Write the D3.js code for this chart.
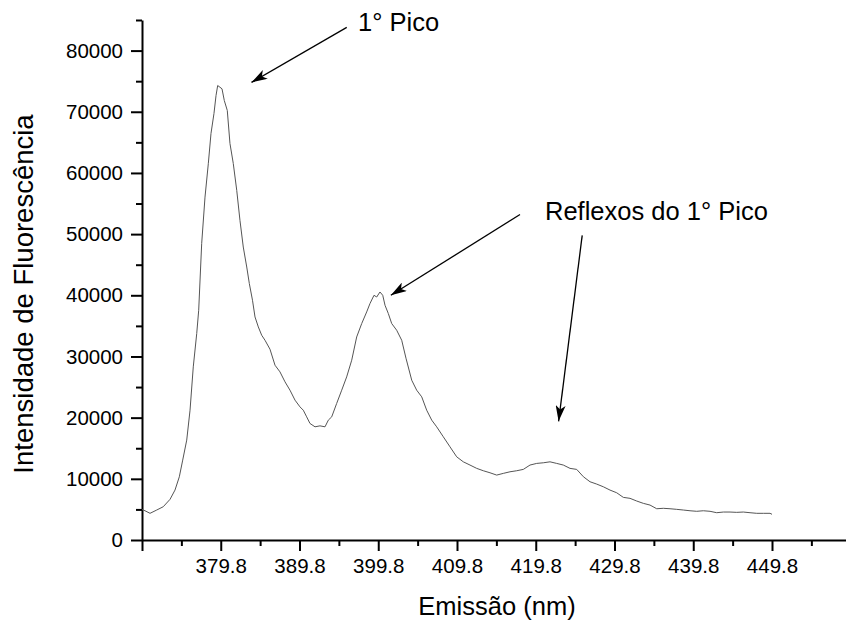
<!DOCTYPE html>
<html>
<head>
<meta charset="utf-8">
<script src="https://cdn.jsdelivr.net/npm/d3@7"></script>
<style>
  body { margin: 0; background: #fff; }
  svg { display: block; font-family: "Liberation Sans", Arial, sans-serif; }
</style>
</head>
<body>
<div id="chart"></div>
<script>
// emission spectrum
const wavelength = [
  369.8, 370.18, 370.82, 371.67, 372.5, 373.36, 373.99, 374.54, 374.97, 375.48,
  375.9, 376.31, 376.75, 377.0, 377.38, 377.8, 378.22, 378.56, 378.94, 379.2,
  379.41, 379.7, 379.96, 380.25, 380.63, 380.97, 381.39, 381.83, 382.24, 382.66,
  383.1, 383.43, 383.83, 384.15, 384.57, 385.0, 385.42, 386.05, 386.69, 387.32,
  387.96, 388.59, 389.23, 389.86, 390.28, 390.71, 391.13, 391.77, 392.4, 393.04,
  393.46, 393.89, 394.52, 395.16, 395.79, 396.43, 397.06, 397.7, 398.33, 398.75,
  399.26, 399.6, 400.02, 400.37, 400.66, 401.08, 401.51, 402.14, 402.78, 403.32,
  404.05, 404.68, 405.32, 405.95, 406.59, 407.22, 408.06, 408.91, 409.76, 410.6,
  411.45, 412.3, 413.14, 413.99, 414.84, 415.68, 416.53, 417.38, 418.22, 419.07,
  419.92, 420.76, 421.61, 422.46, 423.3, 424.15, 425.0, 425.85, 426.69, 427.54,
  428.38, 429.23, 430.08, 430.92, 431.77, 432.62, 433.46, 434.31, 435.16, 436.0,
  436.85, 437.7, 438.54, 439.39, 440.24, 441.08, 441.93, 442.78, 443.62, 444.47,
  445.32, 446.16, 447.01, 447.86, 448.7, 449.55, 449.8
];
const intensity = [
  4980, 4780, 4360, 4900, 5440, 6650, 8160, 10330, 13060, 16330,
  21220, 28300, 33750, 37550, 48490, 56050, 61500, 66450, 69720, 72650,
  74290, 74010, 73750, 71840, 70210, 64820, 61550, 57150, 52250, 47890,
  44620, 41910, 39190, 36460, 34830, 33470, 32650, 31190, 28570, 27480,
  25850, 24490, 22860, 21760, 21220, 20130, 19050, 18500, 18660, 18500,
  19590, 20130, 22320, 24490, 26660, 29390, 33190, 35380, 37280, 38650,
  40000, 39720, 40540, 40000, 38370, 37010, 35380, 34290, 32650, 29720,
  26120, 24490, 23400, 21220, 19590, 18500, 16870, 15230, 13600, 12780,
  12250, 11710, 11320, 10990, 10610, 10890, 11150, 11320, 11540, 12250,
  12520, 12620, 12780, 12520, 12250, 11710, 11540, 10340, 9520, 9140,
  8700, 8160, 7720, 6970, 6810, 6370, 5990, 5710, 5110, 5180,
  5110, 5010, 4900, 4780, 4690, 4780, 4690, 4460, 4570, 4570,
  4520, 4570, 4460, 4360, 4360, 4360, 4200
];

const xMajor = [369.8, 379.8, 389.8, 399.8, 409.8, 419.8, 429.8, 439.8, 449.8];
const xMinor = [374.8, 384.8, 394.8, 404.8, 414.8, 424.8, 434.8, 444.8, 454.8];
const yMajor = [0, 10000, 20000, 30000, 40000, 50000, 60000, 70000, 80000];
const yMinor = [5000, 15000, 25000, 35000, 45000, 55000, 65000, 75000, 85000];

const xTitle = "Emissão (nm)";
const yTitle = "Intensidade de Fluorescência";

const annotations = [
  { text: "1° Pico", x: 358, y: 31 },
  { text: "Reflexos do 1° Pico", x: 545, y: 220 }
];
// arrows: [from, to] in wavelength / intensity units
const arrows = [
  { from: [395.8, 83800], to: [383.7, 74800] },
  { from: [417.8, 53200], to: [401.4, 40000] },
  { from: [425.7, 49800], to: [422.7, 19400] }
];

const W = 846, H = 621;
const margin = { left: 142, top: 20, bottom: 81 };

const svg = d3.select("#chart").append("svg")
  .attr("width", W)
  .attr("height", H);

const x = d3.scaleLinear().domain([369.8, 459.8]).range([margin.left, 850.75]);
const y = d3.scaleLinear().domain([0, 85000]).range([H - margin.bottom, margin.top]);

// x axis
const xAxisG = svg.append("g").attr("transform", `translate(0,${y(0)})`);
xAxisG.call(d3.axisBottom(x).tickValues(xMajor).tickSize(11).tickSizeOuter(0).tickPadding(7)
  .tickFormat((d, i) => i === 0 ? "" : d3.format(".1f")(d)));
xAxisG.append("g").call(d3.axisBottom(x).tickValues(xMinor).tickSize(6).tickSizeOuter(0).tickFormat(""))
  .select(".domain").remove();

// y axis
const yAxisG = svg.append("g").attr("transform", `translate(${x(369.8)},0)`);
yAxisG.call(d3.axisLeft(y).tickValues(yMajor).tickSize(11).tickSizeOuter(0).tickPadding(8)
  .tickFormat(d3.format("d")));
yAxisG.append("g").call(d3.axisLeft(y).tickValues(yMinor).tickSize(6).tickSizeOuter(0).tickFormat(""))
  .select(".domain").remove();

svg.selectAll(".domain").attr("stroke", "#000").attr("stroke-width", 2);
svg.selectAll(".tick line").attr("stroke", "#000").attr("stroke-width", 2);
svg.selectAll(".tick text")
  .attr("fill", "#000")
  .style("font-size", "20.5px")
  .style("font-family", "'Liberation Sans', Arial, sans-serif");

// axis titles
svg.append("text")
  .attr("x", 497)
  .attr("y", 615)
  .attr("text-anchor", "middle")
  .style("font-size", "25.5px")
  .text(xTitle);

svg.append("text")
  .attr("transform", "translate(33,294) rotate(-90)")
  .attr("text-anchor", "middle")
  .style("font-size", "27.5px")
  .text(yTitle);

// spectrum
const line = d3.line()
  .x((d, i) => x(wavelength[i]))
  .y(d => y(d));

svg.append("path")
  .datum(intensity)
  .attr("fill", "none")
  .attr("stroke", "#555")
  .attr("stroke-width", 1)
  .attr("d", line);

// arrowheads
svg.append("defs").append("marker")
  .attr("id", "head")
  .attr("viewBox", "0 0 16 10")
  .attr("refX", 16)
  .attr("refY", 5)
  .attr("markerWidth", 16)
  .attr("markerHeight", 10)
  .attr("markerUnits", "userSpaceOnUse")
  .attr("orient", "auto")
  .append("path")
  .attr("d", "M0,0 L16,5 L0,10 L4,5 Z")
  .attr("fill", "#000");

svg.selectAll(".arrow")
  .data(arrows)
  .enter().append("line")
  .attr("class", "arrow")
  .attr("x1", d => x(d.from[0]))
  .attr("y1", d => y(d.from[1]))
  .attr("x2", d => x(d.to[0]))
  .attr("y2", d => y(d.to[1]))
  .attr("stroke", "#000")
  .attr("stroke-width", 1.3)
  .attr("marker-end", "url(#head)");

svg.selectAll(".note")
  .data(annotations)
  .enter().append("text")
  .attr("class", "note")
  .attr("x", d => d.x)
  .attr("y", d => d.y)
  .style("font-size", "25.5px")
  .text(d => d.text);
</script>
</body>
</html>
